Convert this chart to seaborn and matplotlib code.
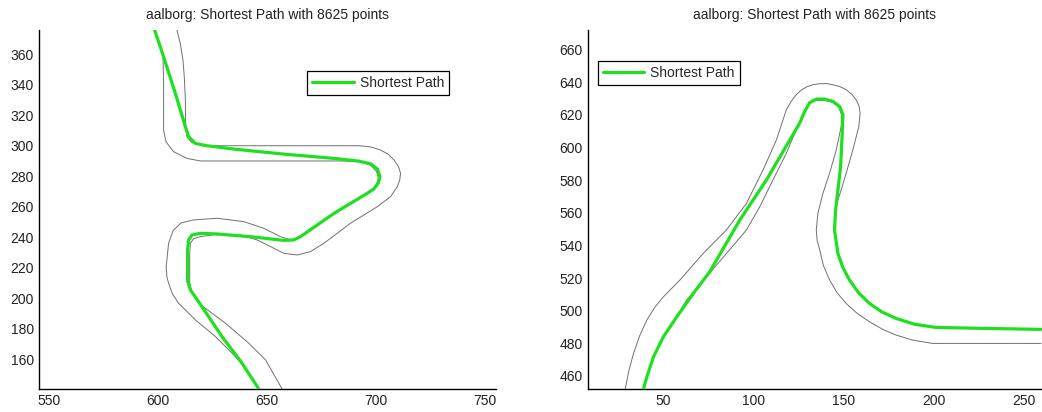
import numpy as np
import pandas as pd
import matplotlib
matplotlib.use('Agg')
import matplotlib.pyplot as plt
from matplotlib.ticker import MultipleLocator
import seaborn as sns

# 트랙 경계 + 최단 경로 (aalborg)

# 왼쪽 구간: 최단 경로
left_path_x = [598.3, 602.4, 607.8, 612.4, 613.9, 617.0, 622.3, 634.6, 657.6, 680.6,
               692.0, 697.5, 700.6, 701.7, 701.0, 698.8, 695.9, 680.6, 665.2, 662.2,
               657.6, 642.3, 626.9, 619.3, 615.4, 613.9, 613.4, 613.4, 614.7, 620.0,
               629.2, 638.4, 646.1]
left_path_y = [376.0, 358.5, 334.4, 312.6, 306.0, 301.6, 300.1, 297.9, 294.6, 291.8,
               290.0, 288.2, 284.8, 279.8, 275.6, 271.6, 268.9, 255.7, 240.4, 238.3,
               238.0, 240.4, 242.2, 242.6, 241.5, 238.3, 231.7, 211.5, 205.5, 194.5,
               174.9, 157.4, 140.5]

# 왼쪽 구간: 트랙 경계 (위쪽 안쪽 선)
left_edge1_x = [608.5, 610.1, 611.3, 611.9, 612.4, 612.5, 613.1, 615.4, 620.8, 665.2,
                692.1, 697.5, 702.0, 705.5, 708.2, 710.2, 711.2, 710.8, 709.7, 706.6,
                700.5, 688.2, 676.0, 669.8, 663.7, 657.6, 651.5, 645.3, 637.7, 625.4,
                619.3, 616.2, 614.7, 614.4, 614.4, 615.4, 618.5, 630.8, 641.5, 649.2,
                656.8]
left_edge1_y = [376.0, 367.2, 356.3, 345.4, 330.1, 312.6, 306.0, 302.1, 300.1, 300.1,
                300.1, 299.3, 297.3, 294.5, 290.7, 286.5, 282.0, 277.5, 273.2, 266.7,
                260.1, 249.2, 236.1, 230.6, 228.4, 229.5, 233.9, 238.3, 241.5, 241.7,
                240.4, 239.1, 236.1, 229.5, 209.8, 204.4, 196.7, 183.6, 170.5, 159.6,
                140.5]

# 왼쪽 구간: 트랙 경계 (위쪽 바깥 선)
left_edge2_x = [602.1, 602.4, 602.4, 603.5, 607.0, 613.1, 619.3, 649.9, 685.2, 692.8,
                697.4, 700.2, 701.0, 699.7, 695.1, 680.6, 665.2, 660.7, 656.1, 648.4,
                639.2, 626.9, 616.2, 610.5, 606.8, 604.7, 603.6, 603.9, 604.7, 606.5,
                609.3, 617.0, 626.2, 635.4, 640.7, 646.1]
left_edge2_y = [360.7, 341.0, 310.4, 302.7, 296.2, 291.8, 290.1, 290.1, 290.1, 289.6,
                287.4, 283.1, 278.7, 273.2, 268.4, 255.3, 240.0, 238.3, 240.4, 245.9,
                250.3, 252.5, 251.4, 249.5, 244.5, 236.1, 220.8, 214.2, 209.8, 202.8,
                196.7, 185.8, 174.9, 161.7, 153.0, 140.5]

# 오른쪽 구간: 최단 경로
right_path_x = [38.9, 40.8, 44.5, 50.0, 57.4, 66.6, 75.8, 92.4, 107.2, 125.6,
                128.3, 131.1, 134.8, 139.4, 144.0, 147.7, 149.6, 149.2, 148.3, 146.8,
                145.5, 144.9, 146.8, 149.5, 153.2, 158.2, 164.3, 171.2, 179.1, 189.5,
                201.2, 228.8, 259.4]
right_path_y = [451.8, 459.4, 471.7, 484.0, 496.2, 510.6, 524.0, 555.6, 580.2, 615.0,
                622.0, 627.5, 629.7, 629.7, 628.3, 625.2, 620.1, 608.8, 588.4, 574.0,
                561.7, 549.5, 535.1, 526.5, 518.8, 511.0, 504.4, 499.2, 495.2, 491.6,
                489.7, 489.1, 488.5]

# 오른쪽 구간: 트랙 경계 (바깥쪽)
right_edge1_x = [28.8, 30.8, 33.4, 36.8, 40.8, 45.2, 50.0, 59.2, 72.1, 85.0,
                 96.1, 105.3, 112.7, 118.2, 121.0, 123.7, 126.5, 129.3, 132.8, 136.7,
                 140.5, 144.0, 148.0, 151.4, 154.5, 156.9, 158.5, 159.1, 158.4, 155.1,
                 151.4, 148.6, 146.8, 145.5, 145.1, 146.8, 149.5, 153.2, 158.2, 164.3,
                 171.2, 179.1, 189.5, 201.2, 259.4]
right_edge1_y = [451.8, 463.0, 473.7, 484.5, 494.2, 502.0, 508.5, 518.8, 535.1, 549.5,
                 565.8, 586.3, 604.7, 623.2, 628.5, 632.4, 635.2, 637.1, 638.5, 639.1,
                 639.2, 638.5, 637.3, 635.4, 632.6, 629.3, 625.5, 621.1, 612.9, 598.6,
                 584.3, 574.0, 567.9, 561.7, 549.5, 535.1, 526.5, 518.8, 511.0, 504.4,
                 499.2, 495.2, 491.6, 489.7, 488.5]

# 오른쪽 구간: 트랙 경계 (안쪽)
right_edge2_x = [38.9, 44.5, 50.0, 57.4, 62.9, 74.0, 85.0, 96.1, 103.5, 110.8,
                 118.2, 123.7, 125.6, 128.3, 131.1, 134.8, 139.4, 144.0, 147.3, 148.8,
                 148.6, 145.9, 142.2, 138.5, 135.7, 134.8, 135.3, 136.7, 138.8, 142.2,
                 146.3, 151.4, 157.5, 164.3, 171.5, 179.1, 188.0, 199.3, 259.4]
right_edge2_y = [451.8, 471.7, 484.0, 496.2, 506.5, 520.8, 535.1, 549.5, 563.8, 580.2,
                 596.5, 610.9, 615.0, 622.0, 627.2, 628.9, 628.9, 627.7, 624.8, 620.1,
                 612.9, 598.6, 584.3, 572.0, 559.7, 549.5, 543.0, 537.2, 527.5, 518.8,
                 511.0, 504.4, 498.3, 493.2, 488.6, 485.0, 482.0, 479.9, 479.9]

title = 'aalborg: Shortest Path with 8625 points'

sns.set_style('white')
plt.rcParams['font.family'] = ['Liberation Sans', 'DejaVu Sans']
plt.rcParams['xtick.direction'] = 'in'
plt.rcParams['ytick.direction'] = 'in'

fig = plt.figure(figsize=(10.42, 4.12), dpi=100)
ax1 = fig.add_axes([0.037, 0.056, 0.439, 0.871])
ax2 = fig.add_axes([0.564, 0.056, 0.436, 0.871])

green = '#1ee01e'
edge_col = '#707070'

panels = [
    (ax1, left_path_x, left_path_y, left_edge1_x, left_edge1_y, left_edge2_x, left_edge2_y),
    (ax2, right_path_x, right_path_y, right_edge1_x, right_edge1_y, right_edge2_x, right_edge2_y),
]

for ax, px, py, e1x, e1y, e2x, e2y in panels:
    # 트랙 경계 (회색 얇은 선)
    sns.lineplot(x=e1x, y=e1y, sort=False, estimator=None, color=edge_col,
                 linewidth=0.7, ax=ax)
    sns.lineplot(x=e2x, y=e2y, sort=False, estimator=None, color=edge_col,
                 linewidth=0.7, ax=ax)
    # 최단 경로 (초록 굵은 선)
    sns.lineplot(x=px, y=py, sort=False, estimator=None, color=green,
                 linewidth=2.3, ax=ax, label='Shortest Path', zorder=5)
    ax.set_title(title, fontsize=10, pad=8, color='#222222')
    ax.tick_params(labelsize=10, length=4, width=0.8, colors='black',
                   labelcolor='#222222')
    for s in ['top', 'right']:
        ax.spines[s].set_visible(False)
    for s in ['left', 'bottom']:
        ax.spines[s].set_color('black')
        ax.spines[s].set_linewidth(1.0)

ax1.set_xlim(545, 755)
ax1.set_ylim(140.5, 376)
ax1.xaxis.set_major_locator(MultipleLocator(50))
ax1.yaxis.set_major_locator(MultipleLocator(20))

ax2.set_xlim(8, 260)
ax2.set_ylim(452, 672)
ax2.xaxis.set_major_locator(MultipleLocator(50))
ax2.yaxis.set_major_locator(MultipleLocator(20))

# 범례
for ax, anchor in [(ax1, (0.587, 0.885)), (ax2, (0.022, 0.913))]:
    leg = ax.legend(loc='upper left', bbox_to_anchor=anchor, fontsize=10,
                    fancybox=False, framealpha=1, edgecolor='black',
                    borderaxespad=0, handlelength=3.0, borderpad=0.35,
                    handletextpad=0.45)
    leg.get_frame().set_linewidth(0.9)

fig.savefig('out.png', dpi=100)
